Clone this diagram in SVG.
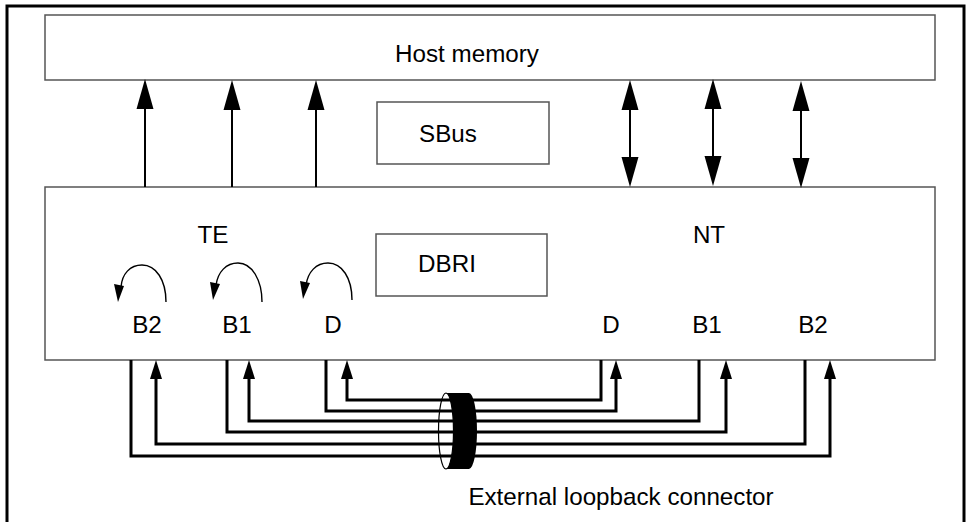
<svg xmlns="http://www.w3.org/2000/svg" width="969" height="522" viewBox="0 0 969 522">
<style>
.box{fill:#fff;stroke:#555;stroke-width:1.5}
.lbl{font-family:"Liberation Sans",Arial,sans-serif;font-size:24.2px;fill:#000;text-anchor:middle}
.bus{stroke:#000;stroke-width:2;fill:none}
.wire{stroke:#000;stroke-width:3;fill:none}
.loop{stroke:#000;stroke-width:1.4;fill:none}
.head{fill:#000}
</style>
<rect width="969" height="522" fill="#fff"/>
<rect x="7" y="6" width="957" height="530" fill="none" stroke="#000" stroke-width="3"/>
<g id="host-memory">
<rect class="box" x="45" y="15" width="890" height="65"/>
<text class="lbl" x="467" y="62">Host memory</text>
</g>
<g id="dbri-chip">
<rect class="box" x="45" y="187" width="890" height="173"/>
<text class="lbl" x="213" y="243">TE</text>
<text class="lbl" x="709" y="243">NT</text>
<text class="lbl" x="147" y="333">B2</text>
<text class="lbl" x="237" y="333">B1</text>
<text class="lbl" x="333" y="333">D</text>
<text class="lbl" x="611" y="333">D</text>
<text class="lbl" x="707" y="333">B1</text>
<text class="lbl" x="813" y="333">B2</text>
</g>
<g id="sbus">
<rect class="box" x="377" y="102" width="172" height="62"/>
<text class="lbl" x="448" y="142">SBus</text>
</g>
<g id="dbri">
<rect class="box" x="376" y="234" width="171" height="62"/>
<text class="lbl" x="447" y="272">DBRI</text>
</g>
<g id="connectors">
<line class="bus" x1="145" y1="187" x2="145" y2="105"/>
<polygon class="head" points="145,79 136.5,109 153.5,109"/>
<line class="bus" x1="232" y1="187" x2="232" y2="105"/>
<polygon class="head" points="232,80 223.5,110 240.5,110"/>
<line class="bus" x1="316" y1="187" x2="316" y2="105"/>
<polygon class="head" points="316,80 307.5,110 324.5,110"/>
<line class="bus" x1="630" y1="107" x2="630" y2="160"/>
<polygon class="head" points="630,80 621.5,110 638.5,110"/>
<polygon class="head" points="630,187 621.5,157 638.5,157"/>
<line class="bus" x1="713" y1="107" x2="713" y2="160"/>
<polygon class="head" points="713,79 704.5,109 721.5,109"/>
<polygon class="head" points="713,186 704.5,156 721.5,156"/>
<line class="bus" x1="801" y1="107" x2="801" y2="160"/>
<polygon class="head" points="801,81 792.5,111 809.5,111"/>
<polygon class="head" points="801,188 792.5,158 809.5,158"/>
<path class="loop" d="M166,302 C166,280 156,265 142,265 C130,265 122,274 121,287"/>
<polygon class="head" points="118,302 114,284 124,286"/>
<path class="loop" d="M262,302 C262,280 252,263 238,263 C226,263 218,272 216,285"/>
<polygon class="head" points="213,300 210,282 220,284"/>
<path class="loop" d="M352,300 C352,278 342,263 328,263 C316,263 308,272 306,285"/>
<polygon class="head" points="303,299 300,281 310,283"/>
<path class="wire" d="M347,377 V400 H601 V360"/>
<polygon class="head" points="347,360 341,379 353,379"/>
<path class="wire" d="M326,360 V411 H616 V377"/>
<polygon class="head" points="616,360 610,379 622,379"/>
<path class="wire" d="M249,377 V421 H699 V360"/>
<polygon class="head" points="249,360 243,379 255,379"/>
<path class="wire" d="M227,360 V432 H726 V377"/>
<polygon class="head" points="726,360 720,379 732,379"/>
<path class="wire" d="M156,377 V444 H805 V360"/>
<polygon class="head" points="156,360 150,379 162,379"/>
<path class="wire" d="M131,360 V456 H830 V377"/>
<polygon class="head" points="830,360 824,379 836,379"/>
</g>
<g id="loopback-connector">
<ellipse cx="446" cy="431" rx="7.5" ry="38" fill="none" stroke="#000" stroke-width="1.2"/>
<path d="M446,393 L469,393 A8,38 0 0 1 469,469 L446,469 A7.5,38 0 0 0 446,393 Z" fill="#000"/>
<text class="lbl" x="621" y="505">External loopback connector</text>
</g>
</svg>
